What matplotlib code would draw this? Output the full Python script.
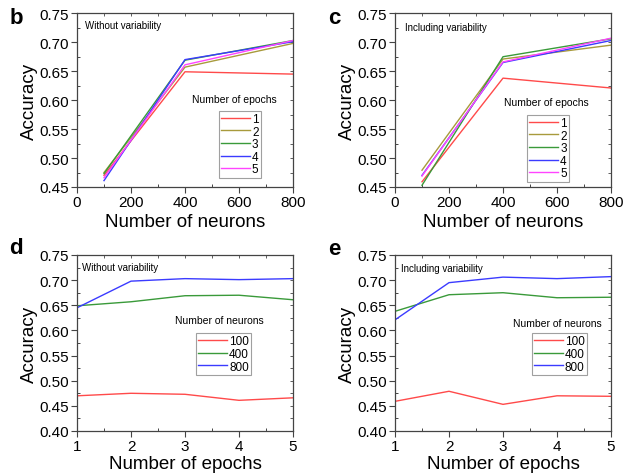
import matplotlib
matplotlib.use("Agg")
import matplotlib.pyplot as plt
from matplotlib.ticker import MultipleLocator
from matplotlib.lines import Line2D

plt.rcParams['font.family'] = ['Liberation Sans', 'DejaVu Sans']

neurons = [100, 400, 800]
epochs = [1, 2, 3, 4, 5]

# Without variability: accuracy vs epochs for each neuron count
wo_100 = [0.470, 0.475, 0.473, 0.461, 0.466]
wo_400 = [0.649, 0.657, 0.669, 0.670, 0.661]
wo_800 = [0.645, 0.698, 0.703, 0.701, 0.703]

# Including variability
inc_100 = [0.459, 0.479, 0.453, 0.470, 0.469]
inc_400 = [0.638, 0.671, 0.675, 0.665, 0.666]
inc_800 = [0.621, 0.695, 0.706, 0.703, 0.707]

epoch_labels = ['1', '2', '3', '4', '5']
neuron_labels = ['100', '400', '800']

epoch_colors = ['#FF4A4A', '#A89A3C', '#3A9A3A', '#3B3BFF', '#FF44FF']
neuron_colors = ['#FF4A4A', '#3A9A3A', '#3B3BFF']

W, H = 636, 477
fig = plt.figure(figsize=(W / 100, H / 100), dpi=100)

def add_ax(x0, y0, x1, y1):
    return fig.add_axes([x0 / W, 1 - y1 / H, (x1 - x0) / W, (y1 - y0) / H])

spine_c = '#444444'

def style(ax, xmaj, xmin, ymaj, ymin):
    for s in ax.spines.values():
        s.set_color(spine_c)
        s.set_linewidth(0.9)
    ax.xaxis.set_major_locator(MultipleLocator(xmaj))
    ax.xaxis.set_minor_locator(MultipleLocator(xmin))
    ax.yaxis.set_major_locator(MultipleLocator(ymaj))
    ax.yaxis.set_minor_locator(MultipleLocator(ymin))
    ax.tick_params(which='major', direction='out', length=4, width=0.8,
                   color=spine_c, labelsize=11, pad=1.5)
    ax.tick_params(which='minor', direction='in', length=2.5, width=0.7,
                   color=spine_c)
    secx = ax.secondary_xaxis('top')
    secx.xaxis.set_major_locator(MultipleLocator(xmin))
    secx.tick_params(direction='in', length=2, width=0.6, color=spine_c,
                     labeltop=False)
    secx.spines['top'].set_visible(False)
    secy = ax.secondary_yaxis('right')
    secy.yaxis.set_major_locator(MultipleLocator(ymin))
    secy.tick_params(direction='in', length=2, width=0.6, color=spine_c,
                     labelright=False)
    secy.spines['right'].set_visible(False)
    ax.set_ylabel('Accuracy', fontsize=13.5, labelpad=1)

def add_legend(ax, colors, labels, box, title, title_xy):
    handles = [Line2D([], [], color=c, lw=1.0) for c in colors]
    leg = ax.legend(handles, labels, loc='upper left',
                    bbox_to_anchor=(box[0], box[1]), fontsize=8.5,
                    frameon=True, fancybox=False, edgecolor='#888888',
                    handlelength=2.4, handletextpad=0.2, labelspacing=0.05,
                    borderpad=0.2, borderaxespad=0, markerfirst=True)
    leg.get_frame().set_linewidth(0.8)
    ax.text(title_xy[0], title_xy[1], title, transform=ax.transAxes,
            ha='center', va='center', fontsize=7.5)

wo = [wo_100, wo_400, wo_800]
inc = [inc_100, inc_400, inc_800]

# Panel b
axb = add_ax(77, 14.3, 293, 188)
for e in range(len(epochs)):
    axb.plot(neurons, [wo[n][e] for n in range(len(neurons))],
             color=epoch_colors[e], lw=1.0)
axb.set_xlim(0, 800)
axb.set_ylim(0.45, 0.75)
style(axb, 200, 100, 0.05, 0.025)
axb.set_xlabel('Number of neurons', fontsize=13.5, labelpad=3)
axb.text(0.037, 0.933, 'Without variability', transform=axb.transAxes,
         fontsize=7, va='center', ha='left')
add_legend(axb, epoch_colors, epoch_labels, (0.657, 0.44), 'Number of epochs', (0.73, 0.505))

# Panel c
axc = add_ax(395, 14.3, 611, 188)
for e in range(len(epochs)):
    axc.plot(neurons, [inc[n][e] for n in range(len(neurons))],
             color=epoch_colors[e], lw=1.0)
axc.set_xlim(0, 800)
axc.set_ylim(0.45, 0.75)
style(axc, 200, 100, 0.05, 0.025)
axc.set_xlabel('Number of neurons', fontsize=13.5, labelpad=3)
axc.text(0.046, 0.923, 'Including variability', transform=axc.transAxes,
         fontsize=7, va='center', ha='left')
add_legend(axc, epoch_colors, epoch_labels, (0.611, 0.417), 'Number of epochs', (0.70, 0.49))

# Panel d
axd = add_ax(77, 256, 293, 432)
for n in range(len(neurons)):
    axd.plot(epochs, wo[n], color=neuron_colors[n], lw=1.0)
axd.set_xlim(1, 5)
axd.set_ylim(0.40, 0.75)
style(axd, 1, 0.5, 0.05, 0.025)
axd.set_xlabel('Number of epochs', fontsize=13.5, labelpad=2)
axd.text(0.023, 0.93, 'Without variability', transform=axd.transAxes,
         fontsize=7, va='center', ha='left')
add_legend(axd, neuron_colors, neuron_labels, (0.551, 0.557), 'Number of neurons', (0.657, 0.63))

# Panel e
axe = add_ax(395, 256, 611, 432)
for n in range(len(neurons)):
    axe.plot(epochs, inc[n], color=neuron_colors[n], lw=1.0)
axe.set_xlim(1, 5)
axe.set_ylim(0.40, 0.75)
style(axe, 1, 0.5, 0.05, 0.025)
axe.set_xlabel('Number of epochs', fontsize=13.5, labelpad=2)
axe.text(0.028, 0.926, 'Including variability', transform=axe.transAxes,
         fontsize=7, va='center', ha='left')
add_legend(axe, neuron_colors, neuron_labels, (0.634, 0.557), 'Number of neurons', (0.75, 0.614))

for lbl, x, y in [('b', 16, 18), ('c', 334, 18), ('d', 16, 249), ('e', 334, 250)]:
    fig.text(x / W, 1 - y / H, lbl, fontsize=16, fontweight='bold',
             ha='center', va='center')

fig.savefig('out.png', dpi=100)
